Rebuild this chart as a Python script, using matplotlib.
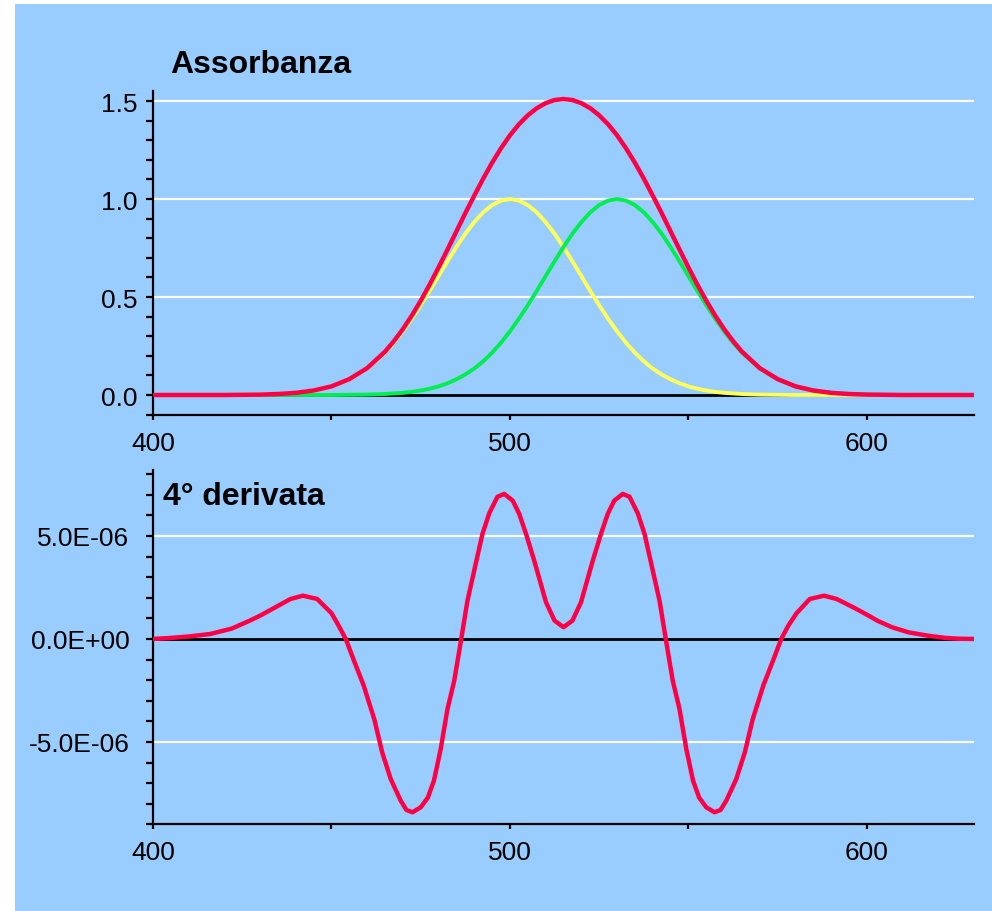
import numpy as np
import matplotlib
matplotlib.use("Agg")
import matplotlib.pyplot as plt
from matplotlib.patches import Rectangle
from matplotlib.ticker import MultipleLocator, FuncFormatter

plt.rcParams['font.family'] = ['Liberation Sans', 'DejaVu Sans']

# spettri di assorbimento (nm, ogni 5 nm)
lam = [400, 405, 410, 415, 420, 425, 430, 435, 440, 445, 450, 455, 460, 465,
       470, 475, 480, 485, 490, 495, 500, 505, 510, 515, 520, 525, 530, 535,
       540, 545, 550, 555, 560, 565, 570, 575, 580, 585, 590, 595, 600, 605,
       610, 615, 620, 625, 630]
giallo = [0, 0, 0, 0, 0, 0.001, 0.002, 0.005, 0.011, 0.023, 0.044, 0.080,
          0.135, 0.216, 0.325, 0.458, 0.607, 0.755, 0.882, 0.969, 1.000, 0.969,
          0.882, 0.755, 0.607, 0.458, 0.325, 0.216, 0.135, 0.080, 0.044, 0.023,
          0.011, 0.005, 0.002, 0.001, 0, 0, 0, 0, 0, 0, 0, 0, 0, 0, 0]
verde = [0, 0, 0, 0, 0, 0, 0, 0, 0, 0, 0, 0.001, 0.002, 0.005, 0.011, 0.023,
         0.044, 0.080, 0.135, 0.216, 0.325, 0.458, 0.607, 0.755, 0.882, 0.969,
         1.000, 0.969, 0.882, 0.755, 0.607, 0.458, 0.325, 0.216, 0.135, 0.080,
         0.044, 0.023, 0.011, 0.005, 0.002, 0.001, 0, 0, 0, 0, 0]
somma = [0, 0, 0, 0, 0, 0.001, 0.002, 0.005, 0.011, 0.023, 0.044, 0.081,
         0.137, 0.221, 0.336, 0.481, 0.651, 0.835, 1.017, 1.185, 1.325, 1.427,
         1.489, 1.510, 1.489, 1.427, 1.325, 1.185, 1.017, 0.835, 0.651, 0.481,
         0.336, 0.221, 0.137, 0.081, 0.044, 0.023, 0.011, 0.005, 0.002, 0.001,
         0, 0, 0, 0, 0]

# punti intermedi nella zona dei picchi
lam_m = [467.5, 472.5, 477.5, 482.5, 487.5, 492.5, 497.5, 502.5, 507.5, 512.5,
         517.5, 522.5, 527.5, 532.5, 537.5, 542.5, 547.5, 552.5, 557.5, 562.5]
giallo_m = [0.267, 0.389, 0.531, 0.682, 0.823, 0.932, 0.992, 0.992, 0.932, 0.823,
            0.682, 0.531, 0.389, 0.267, 0.172, 0.105, 0.060, 0.032, 0.016, 0.008]
verde_m = [0.008, 0.016, 0.032, 0.060, 0.105, 0.172, 0.267, 0.389, 0.531, 0.682,
           0.823, 0.932, 0.992, 0.992, 0.932, 0.823, 0.682, 0.531, 0.389, 0.267]
somma_m = [0.275, 0.405, 0.563, 0.742, 0.928, 1.104, 1.259, 1.381, 1.463, 1.505,
           1.505, 1.463, 1.381, 1.259, 1.104, 0.928, 0.742, 0.563, 0.405, 0.275]

# 4a derivata (unita 1E-06)
lam_d = [400, 405, 410, 416, 422, 427, 430, 436, 438.5, 442, 446, 450, 452,
         454, 456.3, 459, 462, 464.2, 466.6, 469.4, 471, 472.7, 475, 477,
         478.7, 480.6, 482.5, 484.4, 486.2, 488.1, 490.4, 492.3, 494.2, 496.5,
         498.4, 500.8, 502.6, 504.5, 506.8, 510.1, 512.5, 515, 517.5, 519.9,
         523.2, 525.5, 527.4, 529.2, 531.6, 533.5, 535.8, 537.7, 539.6, 541.9,
         543.8, 545.6, 547.5, 549.4, 551.3, 553, 555, 557.3, 559, 560.6,
         563.4, 565.8, 568, 571, 573.7, 576, 578, 580.3, 584, 588, 591.5,
         594.3, 597, 600.5, 603, 607, 611.7, 617, 622, 626, 630]
deriv = [0.0, 0.05, 0.12, 0.24, 0.5, 0.88, 1.13, 1.70, 1.94, 2.10, 1.94, 1.25,
         0.65, 0.0, -1.05, -2.25, -3.9, -5.5, -6.8, -7.85, -8.3, -8.41, -8.17,
         -7.7, -6.88, -5.34, -3.40, -2.02, -0.16, 1.86, 3.64, 5.10, 6.1, 6.9,
         7.04, 6.71, 6.07, 5.10, 3.80, 1.78, 0.89, 0.57, 0.89, 1.78, 3.80,
         5.10, 6.07, 6.71, 7.04, 6.9, 6.1, 5.10, 3.64, 1.86, -0.16, -2.02,
         -3.40, -5.34, -6.88, -7.7, -8.17, -8.41, -8.3, -7.85, -6.8, -5.5,
         -3.9, -2.25, -1.05, 0.0, 0.65, 1.25, 1.94, 2.10, 1.94, 1.70, 1.46,
         1.13, 0.88, 0.57, 0.32, 0.16, 0.05, 0.01, 0.0]
deriv = np.array(deriv) * 1e-6

# unisco le due griglie
x_all = np.array(lam + lam_m)
ordine = np.argsort(x_all)
x_all = x_all[ordine]
y_giallo = np.array(giallo + giallo_m)[ordine]
y_verde = np.array(verde + verde_m)[ordine]
y_somma = np.array(somma + somma_m)[ordine]

celeste = '#99ccff'
rosso = '#ff0045'
giallo_c = '#ffff5a'
verde_c = '#00ee50'

fig = plt.figure(figsize=(9.92, 9.12), dpi=100, facecolor='white')
fig.patches.append(Rectangle((15/992, 0), 1, 1 - 5/912, transform=fig.transFigure,
                             facecolor=celeste, edgecolor='none', zorder=-10))

ax1 = fig.add_axes([153/992, 1 - 415.6/912, 821/992, 323.4/912])
ax2 = fig.add_axes([153/992, 1 - 825.4/912, 821/992, 354.4/912])

for ax in (ax1, ax2):
    ax.set_facecolor('none')
    for s in ('top', 'right'):
        ax.spines[s].set_visible(False)
    for s in ('left', 'bottom'):
        ax.spines[s].set_linewidth(1.6)
    ax.set_xlim(400, 630)
    ax.xaxis.set_major_locator(MultipleLocator(100))
    ax.xaxis.set_minor_locator(MultipleLocator(50))
    ax.tick_params(axis='x', which='both', direction='out', length=3.5, width=1.6,
                   labelsize=19, pad=8)
    ax.tick_params(axis='y', which='both', direction='out', length=5, width=1.6,
                   labelsize=19)
    ax.axhline(0, color='black', lw=2, zorder=2)

# grafico in alto
ax1.set_ylim(-0.1, 1.55)
ax1.yaxis.set_major_locator(MultipleLocator(0.5))
ax1.yaxis.set_minor_locator(MultipleLocator(0.1))
ax1.yaxis.set_major_formatter(FuncFormatter(lambda v, p: f"{v:.1f}"))
ax1.tick_params(axis='y', pad=6)
for v in (0.5, 1.0, 1.5):
    ax1.axhline(v, color='white', lw=1.6, zorder=1)
ax1.plot(x_all, y_giallo, color=giallo_c, lw=2.8, zorder=3)
ax1.plot(x_all, y_verde, color=verde_c, lw=2.8, zorder=4)
ax1.plot(x_all, y_somma, color=rosso, lw=3.2, zorder=5)

# grafico in basso
ax2.set_ylim(-9e-6, 8.2e-6)
ax2.yaxis.set_major_locator(MultipleLocator(5e-6))
ax2.yaxis.set_minor_locator(MultipleLocator(1e-6))
ax2.yaxis.set_major_formatter(FuncFormatter(lambda v, p: f"{v:.1E}"))
ax2.tick_params(axis='y', pad=12)
for v in (-5e-6, 5e-6):
    ax2.axhline(v, color='white', lw=1.6, zorder=1)
ax2.plot(lam_d, deriv, color=rosso, lw=3.2, zorder=5)

fig.text(170/992, 1 - 73/912, 'Assorbanza', ha='left', va='baseline',
         fontsize=23, fontweight='bold')
fig.text(163/992, 1 - 505/912, '4° derivata', ha='left', va='baseline',
         fontsize=23, fontweight='bold')

fig.savefig('out.png', dpi=100, facecolor='white')
